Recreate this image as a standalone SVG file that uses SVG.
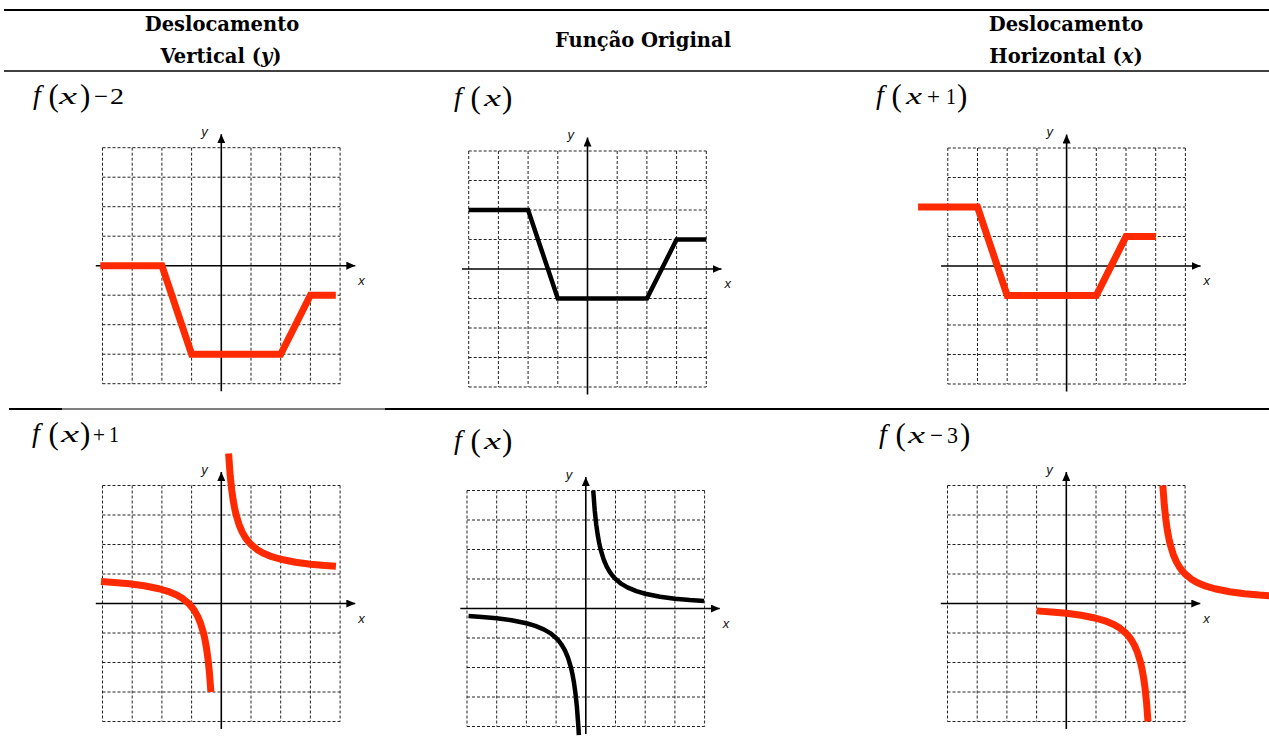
<svg xmlns="http://www.w3.org/2000/svg" xmlns:xlink="http://www.w3.org/1999/xlink" width="1269" height="745" viewBox="0 0 1269 745">
<style>
.hdr{font-family:"DejaVu Serif","Liberation Serif",serif;font-weight:bold;font-size:19.5px;fill:#000}
.m{font-family:"Liberation Serif","Times New Roman",serif;fill:#000}
.mf{font-size:28px;font-style:italic}
.mx{font-size:24px;font-style:italic}
.mp{font-size:31px}
.mn{font-size:23px}
.it{font-style:italic}
.ax{stroke:#000;stroke-width:1.6;fill:none}
.grid{stroke:#222;stroke-width:1;stroke-dasharray:3,2;fill:none}
.albl{font-family:"Liberation Sans",Arial,sans-serif;font-size:13px;font-style:italic;fill:#111}
.red{stroke:#FF2A00;stroke-width:7;fill:none;stroke-linejoin:round}
.blk{stroke:#000;stroke-width:4.5;fill:none;stroke-linejoin:round}
.rule{stroke:#000;fill:none}
</style>
<defs>
<marker id="arr" markerUnits="userSpaceOnUse" markerWidth="9" markerHeight="8" refX="9" refY="4" orient="auto">
<path d="M0,0 L9,4 L0,8 z" fill="#000"/>
</marker>
<g id="gridaxes">
<path class="grid" d="M-118.8,-118H118.8M-118.8,-88.5H118.8M-118.8,-59H118.8M-118.8,-29.5H118.8M-118.8,29.5H118.8M-118.8,59H118.8M-118.8,88.5H118.8M-118.8,118H118.8M-118.8,-118V118M-89.1,-118V118M-59.4,-118V118M-29.7,-118V118M29.7,-118V118M59.4,-118V118M89.1,-118V118M118.8,-118V118"/>
<line class="ax" x1="-125.5" y1="0" x2="134" y2="0" marker-end="url(#arr)"/>
<line class="ax" x1="0" y1="125.5" x2="0" y2="-131.5" marker-end="url(#arr)"/>
<text class="albl" x="-20" y="-130">y</text>
<text class="albl" x="137" y="19">x</text>
</g>
</defs>

<g id="table-rules">
<line class="rule" x1="4" y1="10" x2="1269" y2="10" stroke-width="2"/>
<line class="rule" x1="4" y1="71" x2="1269" y2="71" stroke-width="1.5"/>
<line class="rule" x1="9" y1="409" x2="62" y2="409" stroke-width="2"/>
<line class="rule" x1="62" y1="409" x2="385" y2="409" stroke-width="1"/>
<line class="rule" x1="385" y1="409" x2="1269" y2="409" stroke-width="2"/>
</g>

<g id="header">
<text class="hdr" x="222" y="31" text-anchor="middle">Deslocamento</text>
<text class="hdr" x="221" y="63" text-anchor="middle">Vertical (<tspan class="it">y</tspan>)</text>
<text class="hdr" x="643" y="47" text-anchor="middle">Função Original</text>
<text class="hdr" x="1066" y="31" text-anchor="middle">Deslocamento</text>
<text class="hdr" x="1066" y="63" text-anchor="middle">Horizontal (<tspan class="it">x</tspan>)</text>
</g>

<g id="graph-vertical-step">
<g id="label-1">
<text class="m mf" x="33" y="104">f</text>
<text class="m mp" x="48.5" y="106">(</text>
<text class="m mx" x="59" y="104" textLength="18" lengthAdjust="spacingAndGlyphs">x</text>
<text class="m mp" x="80" y="106">)</text>
<text class="m mn" x="94" y="104" textLength="14" lengthAdjust="spacingAndGlyphs">−</text>
<text class="m mn" x="110" y="104" textLength="14" lengthAdjust="spacingAndGlyphs">2</text>
</g>
<g transform="translate(221.3,265.7)">
<use xlink:href="#gridaxes"/>
<path class="red" style="stroke-linejoin:miter" d="M-121,0 L-59.4,0 L-29.7,88.5 L59.4,88.5 L89.1,29.5 L114.5,29.5"/>
</g>
</g>

<g id="graph-original-step">
<g id="label-2">
<text class="m mf" x="454" y="106">f</text>
<text class="m mp" x="470.5" y="108">(</text>
<text class="m mx" x="484" y="106" textLength="17" lengthAdjust="spacingAndGlyphs">x</text>
<text class="m mp" x="502" y="108">)</text>
</g>
<g transform="translate(587.5,269)">
<use xlink:href="#gridaxes"/>
<path class="blk" style="stroke-linejoin:miter" d="M-118.8,-59 L-59.4,-59 L-29.7,29.5 L59.4,29.5 L89.1,-29.5 L118.8,-29.5"/>
</g>
</g>

<g id="graph-horizontal-step">
<g id="label-3">
<text class="m mf" x="876" y="104">f</text>
<text class="m mp" x="891.5" y="106">(</text>
<text class="m mx" x="906" y="104" textLength="16" lengthAdjust="spacingAndGlyphs">x</text>
<text class="m mn" x="927" y="104" textLength="13" lengthAdjust="spacingAndGlyphs">+</text>
<text class="m mn" x="946" y="104" textLength="10" lengthAdjust="spacingAndGlyphs">1</text>
<text class="m mp" x="957" y="106">)</text>
</g>
<g transform="translate(1066.6,266)">
<use xlink:href="#gridaxes"/>
<path class="red" style="stroke-linejoin:miter" d="M-148.5,-59 L-89.1,-59 L-59.4,29.5 L29.7,29.5 L59.4,-29.5 L89.1,-29.5"/>
</g>
</g>

<g id="graph-vertical-hyperbola">
<g id="label-4">
<text class="m mf" x="32" y="442">f</text>
<text class="m mp" x="48.5" y="444">(</text>
<text class="m mx" x="61" y="442" textLength="18" lengthAdjust="spacingAndGlyphs">x</text>
<text class="m mp" x="80" y="444">)</text>
<text class="m mn" x="93" y="442" textLength="12" lengthAdjust="spacingAndGlyphs">+</text>
<text class="m mn" x="109" y="442" textLength="10" lengthAdjust="spacingAndGlyphs">1</text>
</g>
<g transform="translate(221.3,603.5)">
<use xlink:href="#gridaxes"/>
<path class="red" d="M7.28,-149.9 L8.91,-127.83 L10.40,-113.79 L11.88,-103.25 L13.37,-95.06 L14.85,-88.5 L17.82,-78.67 L20.79,-71.64 L23.76,-66.38 L26.73,-62.28 L29.7,-59 L35.64,-54.08 L41.58,-50.57 L50.49,-46.85 L59.4,-44.25 L74.25,-41.3 L89.1,-39.33 L103.95,-37.93 L114.64,-37.14"/>
<path class="red" d="M-120.3,-22.03 L-106.92,-21.07 L-92.07,-19.67 L-77.22,-17.7 L-62.37,-14.75 L-53.46,-12.15 L-44.55,-8.43 L-38.61,-4.92 L-32.67,0 L-29.7,3.28 L-26.73,7.38 L-23.76,12.64 L-20.79,19.67 L-17.82,29.5 L-16.34,36.06 L-14.85,44.25 L-13.37,54.79 L-11.88,68.83 L-10.40,88.5"/>
</g>
</g>

<g id="graph-original-hyperbola">
<g id="label-5">
<text class="m mf" x="454" y="449">f</text>
<text class="m mp" x="470.5" y="451">(</text>
<text class="m mx" x="484" y="449" textLength="17" lengthAdjust="spacingAndGlyphs">x</text>
<text class="m mp" x="502" y="451">)</text>
</g>
<g transform="translate(585.8,608.5)">
<use xlink:href="#gridaxes"/>
<path class="blk" d="M7.43,-118 L8.91,-98.33 L10.40,-84.29 L11.88,-73.75 L13.37,-65.56 L14.85,-59 L17.82,-49.17 L20.79,-42.14 L23.76,-36.88 L26.73,-32.78 L29.7,-29.5 L35.64,-24.58 L41.58,-21.07 L50.49,-17.35 L59.4,-14.75 L74.25,-11.8 L89.1,-9.83 L103.95,-8.43 L118.2,-7.41"/>
<path class="blk" d="M-117.3,7.47 L-103.95,8.43 L-89.1,9.83 L-74.25,11.8 L-59.4,14.75 L-50.49,17.35 L-41.58,21.07 L-35.64,24.58 L-29.7,29.5 L-26.73,32.78 L-23.76,36.88 L-20.79,42.14 L-17.82,49.17 L-14.85,59 L-13.37,65.56 L-11.88,73.75 L-10.40,84.29 L-8.91,98.33 L-7.43,118 L-6.92,126.6"/>
</g>
</g>

<g id="graph-horizontal-hyperbola">
<g id="label-6">
<text class="m mf" x="879" y="443">f</text>
<text class="m mp" x="895.5" y="445">(</text>
<text class="m mx" x="908" y="443" textLength="17" lengthAdjust="spacingAndGlyphs">x</text>
<text class="m mn" x="930" y="443" textLength="13" lengthAdjust="spacingAndGlyphs">−</text>
<text class="m mn" x="947" y="443" textLength="11" lengthAdjust="spacingAndGlyphs">3</text>
<text class="m mp" x="960" y="445">)</text>
</g>
<g transform="translate(1066.3,603.5)">
<use xlink:href="#gridaxes"/>
<path class="red" d="M96.53,-118 L98.01,-98.33 L99.50,-84.29 L100.98,-73.75 L102.47,-65.56 L103.95,-59 L106.92,-49.17 L109.89,-42.14 L112.86,-36.88 L115.83,-32.78 L118.8,-29.5 L124.74,-24.58 L130.68,-21.07 L139.59,-17.35 L148.5,-14.75 L163.35,-11.8 L178.2,-9.83 L193.05,-8.43 L213.84,-7.02"/>
<path class="red" d="M-29.7,7.375 L-14.85,8.43 L0,9.83 L14.85,11.8 L29.7,14.75 L38.61,17.35 L47.52,21.07 L53.46,24.58 L59.4,29.5 L62.37,32.78 L65.34,36.88 L68.31,42.14 L71.28,49.17 L74.25,59 L75.74,65.56 L77.22,73.75 L78.71,84.29 L80.19,98.33 L81.68,118"/>
</g>
</g>
</svg>
